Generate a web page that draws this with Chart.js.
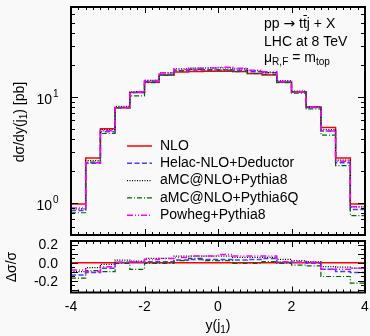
<!DOCTYPE html>
<html>
<head>
<meta charset="utf-8">
<style>
  html, body { margin: 0; padding: 0; background: #f9f9f9; }
  #wrap { position: relative; width: 370px; height: 336px; }
  #wrap canvas { position: absolute; left: 0; top: 0; }
</style>
</head>
<body>
<div id="wrap">
  <canvas id="mainChart" width="370" height="336"></canvas>
  <canvas id="ratioChart" width="370" height="336"></canvas>
</div>
<script src="https://cdn.jsdelivr.net/npm/chart.js@4.4.0/dist/chart.umd.min.js"></script>
<script>
// bin edges of y(j1), 20 bins of width 0.4
const binEdges = [-4.0, -3.6, -3.2, -2.8, -2.4, -2.0, -1.6, -1.2, -0.8, -0.4, 0.0,
                  0.4, 0.8, 1.2, 1.6, 2.0, 2.4, 2.8, 3.2, 3.6, 4.0];

// dsigma/dy(j1) [pb]
const nlo           = [0.98, 2.66, 5.00, 7.90, 11.0, 13.7, 16.0, 17.1, 17.3, 17.4, 17.4, 17.3, 16.6, 16.0, 13.7, 11.1, 8.00, 5.15, 2.66, 0.98];
const helacDeductor = [0.85, 2.37, 4.69, 7.93, 11.0, 13.9, 16.2, 17.6, 17.9, 18.0, 18.0, 17.8, 17.2, 16.8, 13.8, 11.1, 7.94, 4.77, 2.40, 0.87];
const amcPythia8    = [0.88, 2.51, 4.91, 8.13, 11.2, 14.3, 16.8, 18.3, 18.6, 18.7, 18.7, 18.3, 17.6, 16.9, 14.2, 11.3, 8.09, 4.92, 2.53, 0.92];
const amcPythia6Q   = [0.81, 2.43, 4.51, 7.84, 10.2, 13.6, 15.9, 17.5, 18.1, 17.8, 17.8, 17.2, 16.5, 16.2, 13.6, 10.8, 7.71, 4.36, 2.25, 0.76];
const powhegPythia8 = [0.90, 2.39, 4.78, 7.93, 11.1, 14.2, 16.8, 18.1, 18.6, 18.7, 19.0, 18.6, 17.8, 17.2, 13.9, 11.1, 8.03, 4.77, 2.47, 0.92];

// delta sigma / sigma w.r.t. NLO
const ratioNlo    = [0, 0, 0, 0, 0, 0, 0, 0, 0, 0, 0, 0, 0, 0, 0, 0, 0, 0, 0, 0];
const ratioHelac  = [-0.135, -0.109, -0.062, 0.004, 0.004, 0.011, 0.011, 0.029, 0.036, 0.036, 0.036, 0.029, 0.036, 0.047, 0.004, 0.004, -0.007, -0.073, -0.098, -0.109];
const ratioAmcPy8 = [-0.100, -0.055, -0.018, 0.029, 0.018, 0.047, 0.047, 0.073, 0.073, 0.073, 0.073, 0.058, 0.058, 0.058, 0.036, 0.022, 0.011, -0.044, -0.050, -0.060];
const ratioAmcPy6Q = [-0.171, -0.087, -0.098, -0.007, -0.073, -0.007, -0.007, 0.022, 0.047, 0.022, 0.022, -0.007, -0.007, 0.011, -0.007, -0.026, -0.036, -0.153, -0.153, -0.226];
const ratioPowheg = [-0.080, -0.100, -0.044, 0.004, 0.011, 0.036, 0.047, 0.058, 0.073, 0.073, 0.091, 0.073, 0.073, 0.073, 0.011, 0.004, 0.004, -0.073, -0.073, -0.062];

const seriesLabels = ['NLO', 'Helac-NLO+Deductor', 'aMC@NLO+Pythia8', 'aMC@NLO+Pythia6Q', 'Powheg+Pythia8'];
const xTickLabels = [-4, -2, 0, 2, 4];
const ratioTickLabels = [0.2, 0.0, -0.2];

const FONT = '"Liberation Sans", Arial, Helvetica, sans-serif';
const styles = [
    { color: '#ff0000', dash: [], width: 1.5 },
    { color: '#3f3fff', dash: [5, 2.5], width: 1.5 },
    { color: '#000000', dash: [1, 1.5], width: 1.2 },
    { color: '#006400', dash: [5, 2, 1, 2], width: 1.2 },
    { color: '#ff00ff', dash: [6, 2, 1, 2, 1, 2], width: 1.5 },
];

// histogram as a stepped line: one point per left edge, plus the closing edge
function histPoints(values) {
    return binEdges.map((x, i) => ({ x: x, y: values[Math.min(i, values.length - 1)] }));
}

function makeDatasets(list) {
    return list.map((vals, i) => ({
        label: seriesLabels[i],
        data: histPoints(vals),
        borderColor: styles[i].color,
        borderDash: styles[i].dash,
        borderWidth: styles[i].width,
        stepped: true,
        pointRadius: 0,
        fill: false,
    })).reverse(); // NLO on top
}

// draws text pieces: [text, 'sub'|'sup'|undefined]
function richWidth(ctx, parts, size) {
    let w = 0;
    parts.forEach(p => { ctx.font = (p[1] ? size * 0.72 : size) + 'px ' + FONT; w += ctx.measureText(p[0]).width; });
    return w;
}
function richText(ctx, parts, x, y, size) {
    let cx = x;
    parts.forEach(p => {
        const s = p[1] ? size * 0.72 : size;
        const dy = p[1] === 'sub' ? size * 0.3 : p[1] === 'sup' ? -size * 0.38 : 0;
        ctx.font = s + 'px ' + FONT;
        ctx.fillText(p[0], cx, y + dy);
        cx += ctx.measureText(p[0]).width;
    });
    return cx;
}

// frame plus inward ticks on all four sides
function frameTicks(chart, xMinor, xMajor, yTicks) {
    const ctx = chart.ctx;
    const a = chart.chartArea;
    const xs = chart.scales.x, ys = chart.scales.y;
    ctx.save();
    ctx.strokeStyle = '#000';
    ctx.lineWidth = 1;
    ctx.beginPath();
    for (let v = xs.min; v <= xs.max + 1e-9; v += xMinor) {
        const px = Math.round(xs.getPixelForValue(v)) + 0.5;
        const major = Math.abs(v / xMajor - Math.round(v / xMajor)) < 1e-6;
        const len = major ? 6 : 3;
        ctx.moveTo(px, a.bottom); ctx.lineTo(px, a.bottom - len);
        ctx.moveTo(px, a.top); ctx.lineTo(px, a.top + len);
    }
    yTicks.forEach(t => {
        const py = Math.round(ys.getPixelForValue(t.v)) + 0.5;
        const len = t.major ? 7 : 4;
        ctx.moveTo(a.left, py); ctx.lineTo(a.left + len, py);
        ctx.moveTo(a.right, py); ctx.lineTo(a.right - len, py);
    });
    ctx.stroke();
    ctx.lineWidth = 2;
    ctx.strokeRect(a.left, a.top, a.right - a.left, a.bottom - a.top);
    ctx.restore();
}

const mainMin = 0.5, mainMax = 70;
const logTicks = [];
[0.1, 1, 10].forEach(dec => {
    for (let m = 1; m <= 9; m++) {
        const v = m * dec;
        if (v >= mainMin - 1e-9 && v <= mainMax + 1e-9) logTicks.push({ v: v, major: m === 1 });
    }
});

const mainPlugin = {
    id: 'mainDecor',
    afterDraw(chart) {
        frameTicks(chart, 0.2, 2, logTicks);
        const ctx = chart.ctx;
        const ys = chart.scales.y;
        ctx.save();
        ctx.fillStyle = '#000';
        ctx.textBaseline = 'middle';
        // y tick labels 10^0, 10^1
        [[1, '0'], [10, '1']].forEach(([v, e]) => {
            const py = ys.getPixelForValue(v) + 3;
            ctx.font = '14px ' + FONT;
            ctx.textAlign = 'right';
            ctx.fillText('10', 52, py);
            ctx.textAlign = 'left';
            ctx.font = '10px ' + FONT;
            ctx.fillText(e, 53, py - 6);
        });
        // y axis title
        ctx.save();
        ctx.translate(20, 122);
        ctx.rotate(-Math.PI / 2);
        ctx.textAlign = 'left';
        const parts = [['d\u03c3/dy(j'], ['1', 'sub'], [') [pb]']];
        richText(ctx, parts, -richWidth(ctx, parts, 14) / 2, 0, 14);
        ctx.restore();
        // process annotation
        ctx.textAlign = 'left';
        ctx.font = '14px ' + FONT;
        let x = 264;
        ctx.fillText('pp ', x, 24);
        x += ctx.measureText('pp ').width;
        ctx.font = '14px "DejaVu Sans", ' + FONT;
        ctx.fillText('\u2192', x, 24);
        x += ctx.measureText('\u2192').width;
        ctx.font = '14px ' + FONT;
        ctx.fillText(' t', x, 24);
        x += ctx.measureText(' t').width;
        const tw = ctx.measureText('t').width;
        ctx.fillText('t', x, 24);
        ctx.fillRect(x + 0.5, 15, tw - 0.5, 1);
        x += tw;
        ctx.fillText('j + X', x, 24);
        ctx.fillText('LHC at 8 TeV', 264, 42);
        richText(ctx, [['\u03bc'], ['R,F', 'sub'], [' = m'], ['top', 'sub']], 264, 58, 14);
        // legend
        seriesLabels.forEach((lab, i) => {
            const st = styles[i];
            const py = 146 + i * 17.3;
            ctx.save();
            ctx.strokeStyle = st.color;
            ctx.lineWidth = st.width;
            ctx.setLineDash(st.dash);
            ctx.beginPath();
            ctx.moveTo(127, py); ctx.lineTo(152, py);
            ctx.stroke();
            ctx.restore();
            ctx.font = '14px ' + FONT;
            ctx.fillText(lab, 160, py);
        });
        ctx.restore();
    }
};

const ratioMinorTicks = [];
for (let k = -6; k <= 4; k++) ratioMinorTicks.push({ v: k * 0.05, major: k % 2 === 0 });

const ratioPlugin = {
    id: 'ratioDecor',
    afterDraw(chart) {
        frameTicks(chart, 0.2, 2, ratioMinorTicks);
        const ctx = chart.ctx;
        const xs = chart.scales.x, ys = chart.scales.y;
        ctx.save();
        ctx.fillStyle = '#000';
        ctx.textBaseline = 'middle';
        ctx.textAlign = 'right';
        ctx.font = '14px ' + FONT;
        ratioTickLabels.forEach(v => {
            ctx.fillText(v.toFixed(1), 58, ys.getPixelForValue(v) + 1);
        });
        // x tick labels and title
        ctx.textAlign = 'center';
        xTickLabels.forEach(v => {
            ctx.fillText(String(v), xs.getPixelForValue(v), 307);
        });
        ctx.textAlign = 'left';
        const parts = [['y(j'], ['1', 'sub'], [')']];
        richText(ctx, parts, 218 - richWidth(ctx, parts, 14) / 2, 326, 14);
        ctx.translate(12, 267);
        ctx.rotate(-Math.PI / 2);
        ctx.textAlign = 'center';
        ctx.font = '14px ' + FONT;
        ctx.fillText('\u0394\u03c3/\u03c3', 0, 0);
        ctx.restore();
    }
};

new Chart(document.getElementById('mainChart'), {
    type: 'line',
    data: { datasets: makeDatasets([nlo, helacDeductor, amcPythia8, amcPythia6Q, powhegPythia8]) },
    options: {
        responsive: false,
        animation: false,
        layout: { padding: { left: 0, right: 5, top: 7, bottom: 101 } },
        plugins: { legend: { display: false }, tooltip: { enabled: false } },
        scales: {
            x: { type: 'linear', min: -4, max: 4, display: false },
            y: {
                type: 'logarithmic', min: mainMin, max: mainMax,
                grid: { display: false }, border: { display: false },
                ticks: { display: false },
                afterFit: s => { s.width = 71; },
            },
        },
    },
    plugins: [mainPlugin],
});

new Chart(document.getElementById('ratioChart'), {
    type: 'line',
    data: { datasets: makeDatasets([ratioNlo, ratioHelac, ratioAmcPy8, ratioAmcPy6Q, ratioPowheg]) },
    options: {
        responsive: false,
        animation: false,
        layout: { padding: { left: 0, right: 5, top: 241, bottom: 0 } },
        plugins: { legend: { display: false }, tooltip: { enabled: false } },
        scales: {
            x: {
                type: 'linear', min: -4, max: 4,
                grid: { display: false }, border: { display: false },
                ticks: { display: false },
                afterFit: s => { s.height = 43.5; },
            },
            y: {
                type: 'linear', min: -0.33, max: 0.24,
                grid: { display: false }, border: { display: false },
                ticks: { display: false },
                afterFit: s => { s.width = 71; },
            },
        },
    },
    plugins: [ratioPlugin],
});
</script>
</body>
</html>
